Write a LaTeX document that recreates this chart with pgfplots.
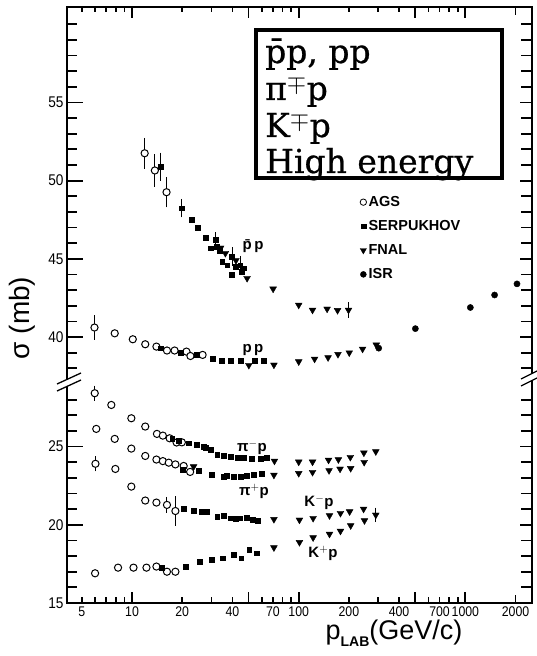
\documentclass[border=0pt]{standalone}
\usepackage{fontspec}
\setmainfont{Liberation Sans}
\newfontfamily\tickfont[FakeStretch=0.88]{Liberation Sans}
\newfontfamily\boxfont[FakeBold=0.7]{DejaVu Serif}
\usepackage{pgfplots}
\pgfplotsset{compat=1.18}

\pgfplotsset{
  ags/.style={only marks, mark=*, mark size=3.6pt, mark options={fill=white, draw=black, line width=1pt}, forget plot},
  serp/.style={only marks, mark=square*, mark size=2.4pt, forget plot},
  fnal/.style={only marks, mark=triangle*, mark size=3.9pt, mark options={rotate=180}, forget plot},
  isr/.style={only marks, mark=*, mark size=3.1pt, forget plot},
  up/.style={y filter/.expression={y-8}},
  eb/.style={error bars/.cd, y dir=both, y explicit,
    error bar style={line width=1pt}, error mark options={mark size=3pt, line width=1pt}},
  limg/.style={legend image code/.code={\draw[##1] plot coordinates {(4pt,0pt)};}},
}
\tikzset{tickmark/.style={line width=1.8pt, draw=black}}
% axis box is 465pt x 596pt; x = 4.07..2510 (log), y = 15..53.1
\newcommand\xp[1]{{(log10(#1)-0.60959)*166.66pt}}
\newcommand\yp[1]{{(#1-15)*15.643pt}}

\begin{document}
\begin{tikzpicture}
\useasboundingbox (-67pt,-53pt) rectangle (470pt,603pt);
\begin{axis}[at={(0pt,0pt)}, anchor=south west,
  width=465pt, height=596pt, scale only axis,
  xmode=log, xmin=4.07, xmax=2510, ymin=15, ymax=53.1,
  axis line style={line width=1.8pt},
  tick style={draw=none},
  xtick={5,10,20,40,70,100,200,400,700,1000,2000},
  xticklabels={5,10,20,40,70,100,200,400,700,1000,2000},
  xticklabel style={font=\tickfont\fontsize{14}{14}\selectfont},
  ytick={15,20,25,32,37,42,47},
  yticklabels={15,20,25,40,45,50,55},
  yticklabel style={font=\tickfont\fontsize{15.5}{15.5}\selectfont},
  legend style={at={(0.630,0.686)}, anchor=north west, draw=none, fill=none,
    font=\bfseries\fontsize{14.5}{14.5}\selectfont, inner sep=0pt, row sep=8.5pt},
  legend cell align=left,
]
% ---- pbar p ----
\addplot[ags, up, eb] coordinates {(11.9,51.75) +- (0,0.79) (13.7,50.65) +- (0,0.85) (16.1,49.26) +- (0,0.78)};
\addplot[serp, up, eb] coordinates {(14.9,50.9) +- (0,0.7) (19.8,48.24) +- (0,0.4) (31.6,46.2) +- (0,0.3)
  (39.8,45.15) +- (0,0.4) (44.6,44.6) +- (0,0.4)};
\addplot[serp, up] coordinates {(22.9,47.49) (24.9,47.0) (27.8,46.36) (29.5,45.68) (32.3,45.8) (33.5,45.5)
  (34.7,44.83) (37.2,44.6) (39.8,44.0) (41.7,44.5) (45.7,44.19) (47,44.4)};
\addplot[fnal, up] coordinates {(34,45.7) (36.3,45.36) (42,44.9) (49,43.76) (70.2,43.08) (100,42.05)
  (121,41.73) (148,41.8) (171,41.71)};
\addplot[fnal, up, eb] coordinates {(199,41.73) +- (0,0.3)};
% ---- p p ----
\addplot[ags, up, eb] coordinates {(5.95,40.61) +- (0,0.58)};
\addplot[ags, up] coordinates {(7.87,40.24) (10.1,39.86) (12.0,39.54) (14.0,39.39) (16.2,39.14)
  (18.0,39.14) (21.2,39.07) (22.4,38.79) (26.5,38.86)};
\addplot[serp, up] coordinates {(14.8,39.29) (19.5,39.0) (24.3,38.86) (30.6,38.6) (34.6,38.5)
  (38.9,38.47) (45.1,38.47) (54.4,38.5) (61.7,38.5)};
\addplot[fnal, up] coordinates {(50.2,38.2) (71,38.22) (100,38.43) (124.5,38.6) (150,38.69) (172,38.9)
  (201,39.0) (241.6,39.24) (292,39.5)};
\addplot[isr, up] coordinates {(302,39.29) (501,40.54) (1071,41.89) (1497,42.69) (2040,43.4)};
% ---- pi- p ----
\addplot[ags, eb] coordinates {(5.97,28.41) +- (0,0.3)};
\addplot[ags] coordinates {(7.51,27.66) (9.9,26.81) (12.0,26.28) (14.1,25.81) (15.3,25.7) (16.8,25.53)
  (18.5,25.26) (19.9,25.27)};
\addplot[serp] coordinates {(17.4,25.49) (19.0,25.36) (21.9,25.21) (24.5,25.1) (26.9,25.0) (27.6,24.94)
  (29.5,24.78) (32.4,24.5) (35.5,24.42) (39,24.36) (42.8,24.3) (46.8,24.3) (52.5,24.2) (59,24.25) (64.5,24.3)};
\addplot[fnal] coordinates {(71.5,24.08) (100,24.02) (121,24.02) (151,24.14) (173,24.17) (204,24.32)
  (246,24.6) (290,24.68)};
% ---- pi+ p ----
\addplot[ags] coordinates {(6.1,26.13) (7.87,25.49) (9.9,24.87) (12.0,24.4) (14.0,24.17) (15.3,24.07)
  (16.6,23.97) (18.2,23.86) (20.4,23.76) (22.3,23.38)};
\addplot[serp] coordinates {(20.1,23.5) (25.1,23.45) (30.2,23.2) (35.5,23.05) (37.1,23.15) (40.7,23.05)
  (44.7,23.08) (49,23.12) (53.6,23.18) (60.2,23.29)};
\addplot[fnal] coordinates {(23.4,23.72) (71,23.18) (100,23.29) (121,23.36) (152,23.47) (177,23.57)
  (205,23.61) (247,24.0)};
% ---- K- p ----
\addplot[ags, eb] coordinates {(6.03,23.9) +- (0,0.29) (16.2,21.27) +- (0,0.32) (18.2,20.88) +- (0,0.75)};
\addplot[ags] coordinates {(7.94,23.57) (9.9,22.44) (12.0,21.55) (14.0,21.42)};
\addplot[serp] coordinates {(20.4,21.05) (23.4,20.88) (26.3,20.84) (28.1,20.84) (32.4,20.52) (35.5,20.59)
  (39,20.42) (41.7,20.37) (44.6,20.42) (49,20.46) (53,20.31) (56.6,20.24)};
\addplot[fnal] coordinates {(71,20.35) (101,20.31) (122,20.42) (153,20.59) (178,20.74) (202,20.84) (245,21.01)};
\addplot[fnal, eb] coordinates {(290,20.63) +- (0,0.27)};
% ---- K+ p ----
\addplot[ags] coordinates {(6.0,16.9) (8.24,17.26) (10.2,17.26) (12.2,17.26) (14.0,17.33) (16.2,17.0) (18.2,17.0)};
\addplot[serp] coordinates {(15.1,17.26) (20.9,17.33) (25.4,17.65) (30.2,17.75) (35.1,17.86) (40.6,18.07)
  (45.2,17.86) (50.5,18.39) (56.2,18.18)};
\addplot[fnal] coordinates {(71,18.54) (101,18.88) (122,19.18) (153,19.41) (178,19.6) (205,19.95) (248,20.27)};
% ---- legend ----
\addlegendimage{only marks, mark=*, mark size=3.2pt, mark options={fill=white, draw=black, line width=0.8pt}, limg}
\addlegendentry{AGS}
\addlegendimage{only marks, mark=square*, mark size=2.4pt, limg}
\addlegendentry{SERPUKHOV}
\addlegendimage{only marks, mark=triangle*, mark size=3.6pt, mark options={rotate=180}, limg}
\addlegendentry{FNAL}
\addlegendimage{only marks, mark=*, mark size=3pt, limg}
\addlegendentry{ISR}
\end{axis}
% ---- tick marks (lengths vary, so drawn on the axis box) ----
\foreach \t in {5,6,7,8,9,20,30,40,60,70,80,90,200,300,400,600,700,800,900}{
  \draw[tickmark] (\xp{\t},0pt) -- ++(0pt,5.5pt);
  \draw[tickmark] (\xp{\t},596pt) -- ++(0pt,-5.5pt);}
\foreach \t in {10,50,100,500,1000}{
  \draw[tickmark] (\xp{\t},0pt) -- ++(0pt,11pt);
  \draw[tickmark] (\xp{\t},596pt) -- ++(0pt,-11pt);}
\draw[tickmark] (\xp{2000},0pt) -- ++(0pt,8pt);
\draw[tickmark] (\xp{2000},596pt) -- ++(0pt,-8pt);
\foreach \t in {15,20,25,32,37,42,47}{
  \draw[tickmark] (0pt,\yp{\t}) -- ++(16pt,0pt);
  \draw[tickmark] (465pt,\yp{\t}) -- ++(-12pt,0pt);}
\foreach \t in {16,17,18,19,21,22,23,24,26,27,28,30,31,33,34,35,36,38,39,40,41,43,44,45,46,48,49,50,51,52}{
  \draw[tickmark] (0pt,\yp{\t}) -- ++(10pt,0pt);
  \draw[tickmark] (465pt,\yp{\t}) -- ++(-11pt,0pt);}
% axis breaks
\fill[white] (-10pt,212pt) -- (18pt,225pt) -- (18pt,232pt) -- (-10pt,219pt) -- cycle;
\draw[line width=1.3pt] (-10pt,212pt) -- (14pt,223pt) (-10pt,219pt) -- (14pt,230pt);
\fill[white] (450pt,215pt) -- (472pt,226pt) -- (472pt,233pt) -- (450pt,222pt) -- cycle;
\draw[line width=1.3pt] (454pt,217pt) -- (472pt,226pt) (454pt,224pt) -- (472pt,233pt);
% title box
\draw[line width=4pt] (189pt,425pt) rectangle (434.5pt,573pt);
\begin{scope}[every node/.style={anchor=base west, inner sep=0pt, font=\boxfont\fontsize{33}{33}\selectfont}]
\node at (198pt,540pt) {\=pp, pp};
\node at (198pt,503pt) {π$^\mp$p};
\node at (198pt,466pt) {K$^\mp$p};
\node at (198pt,430pt) {High energy};
\end{scope}
% curve labels
\begin{scope}[every node/.style={font=\bfseries\fontsize{15}{15}\selectfont, inner sep=0pt}]
\node at (186pt,357pt) {\=p\,p};
\node at (186pt,253pt) {p\,p};
\node at (185pt,156pt) {π$^{-}$p};
\node at (187pt,112pt) {π$^{+}$p};
\node at (252pt,101pt) {K$^{-}$p};
\node at (256pt,50pt) {K$^{+}$p};
\end{scope}
% axis titles
\node[rotate=90, font=\fontsize{28}{28}\selectfont] at (-45pt,285pt) {σ (mb)};
\node[font=\fontsize{27}{27}\selectfont] at (327pt,-30pt) {p\raisebox{-7pt}{\bfseries\fontsize{14}{14}\selectfont LAB}(GeV/c)};
\end{tikzpicture}
\end{document}
